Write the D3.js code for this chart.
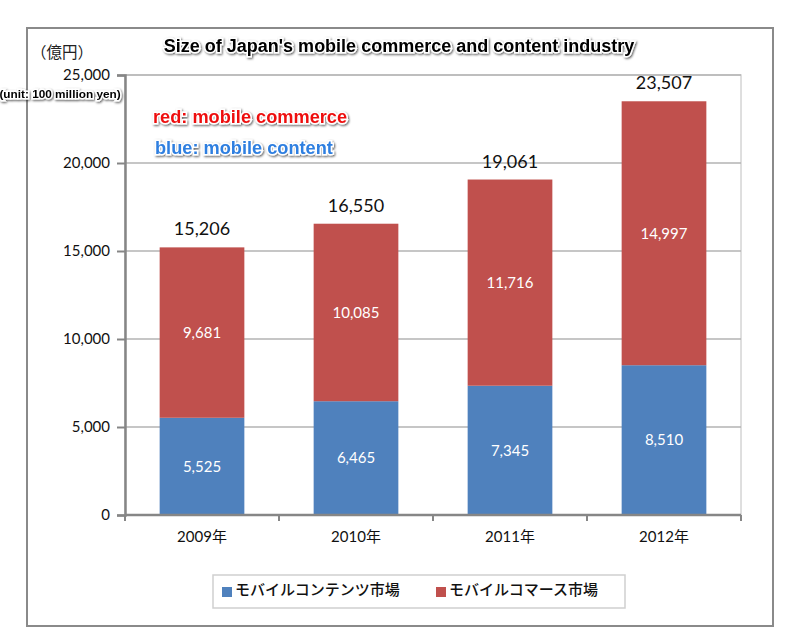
<!DOCTYPE html>
<html>
<head>
<meta charset="utf-8">
<script src="https://cdn.jsdelivr.net/npm/d3@7"></script>
<style>
  body { margin: 0; background: #fff; }
  svg { display: block; }
</style>
</head>
<body>
<svg id="chart" width="796" height="644"></svg>
<script>
const YEARS = ["2009年", "2010年", "2011年", "2012年"];
const CONTENT = [5525, 6465, 7345, 8510];
const COMMERCE = [9681, 10085, 11716, 14997];
const TOTALS = [15206, 16550, 19061, 23507];
const Y_TICKS = [0, 5000, 10000, 15000, 20000, 25000];
const SERIES = [
  { key: "content", name: "モバイルコンテンツ市場", color: "#4F81BD", values: CONTENT },
  { key: "commerce", name: "モバイルコマース市場", color: "#C0504D", values: COMMERCE },
];

const svg = d3.select("#chart");
const margin = { top: 75, left: 125 };
const width = 616;
const height = 440;
const fmt = d3.format(",");
const numFont = "Lato, 'DejaVu Sans', sans-serif";

// outer frame
svg
  .append("rect")
  .attr("x", 27)
  .attr("y", 28)
  .attr("width", 746)
  .attr("height", 598)
  .attr("fill", "none")
  .attr("stroke", "#8a8a8a")
  .attr("stroke-width", 2);

// text shadow used on the annotations
const defs = svg.append("defs");
const shadow = defs.append("filter").attr("id", "shadow").attr("x", "-10%").attr("y", "-30%").attr("width", "120%").attr("height", "160%");
shadow.append("feDropShadow").attr("dx", 1).attr("dy", 1.2).attr("stdDeviation", 1.1).attr("flood-color", "#000").attr("flood-opacity", 0.65);

const g = svg.append("g").attr("transform", `translate(${margin.left}, ${margin.top})`);

const xScale = d3.scaleBand().domain(YEARS).range([0, width]).paddingInner(0.45).paddingOuter(0.225);
const yScale = d3.scaleLinear().domain([0, 25000]).range([height, 0]);

// plot area border
g.append("rect")
  .attr("width", width)
  .attr("height", height)
  .attr("fill", "none")
  .attr("stroke", "#d4d4d4")
  .attr("stroke-width", 1.5);

// gridlines
g.append("g")
  .selectAll("line")
  .data(Y_TICKS.slice(1))
  .join("line")
  .attr("x1", 0)
  .attr("x2", width)
  .attr("y1", (d) => yScale(d))
  .attr("y2", (d) => yScale(d))
  .attr("stroke", "#b3b3b3")
  .attr("stroke-width", 1.5);

// stacked bars
const stacked = d3.stack().keys(SERIES.map((s) => s.key))(
  YEARS.map((y, i) => ({ year: y, content: CONTENT[i], commerce: COMMERCE[i] }))
);

stacked.forEach((layer, li) => {
  const s = SERIES[li];
  const lg = g.append("g").attr("class", `bars-${s.key}`);
  lg.selectAll("rect")
    .data(layer)
    .join("rect")
    .attr("x", (d) => xScale(d.data.year))
    .attr("width", xScale.bandwidth())
    .attr("y", (d) => yScale(d[1]))
    .attr("height", (d) => yScale(d[0]) - yScale(d[1]))
    .attr("fill", s.color);
  lg.selectAll("text")
    .data(layer)
    .join("text")
    .attr("x", (d) => xScale(d.data.year) + xScale.bandwidth() / 2)
    .attr("y", (d) => (yScale(d[0]) + yScale(d[1])) / 2)
    .attr("dy", "0.35em")
    .attr("text-anchor", "middle")
    .attr("fill", "#fff")
    .style("font-family", numFont)
    .style("font-size", "15px")
    .text((d) => fmt(d[1] - d[0]));
});

// totals above bars
g.append("g")
  .selectAll("text")
  .data(YEARS)
  .join("text")
  .attr("x", (d) => xScale(d) + xScale.bandwidth() / 2)
  .attr("y", (d, i) => yScale(TOTALS[i]) - 12)
  .attr("text-anchor", "middle")
  .attr("fill", "#111")
  .style("font-family", numFont)
  .style("font-size", "18px")
  .text((d, i) => fmt(TOTALS[i]));

// y axis
const yAxis = g
  .append("g")
  .attr("class", "axis axis-y")
  .call(d3.axisLeft(yScale).tickValues(Y_TICKS).tickFormat(fmt).tickSize(8).tickPadding(7));
yAxis.select(".domain").attr("stroke", "#868686").attr("stroke-width", 2.5);
yAxis.selectAll(".tick line").attr("stroke", "#868686").attr("stroke-width", 2);
yAxis.selectAll(".tick text").style("font-family", numFont).style("font-size", "15px").attr("fill", "#111");

// x axis with ticks at category boundaries
const xAxis = g.append("g").attr("class", "axis axis-x").attr("transform", `translate(0, ${height})`);
xAxis
  .append("line")
  .attr("x1", 0)
  .attr("x2", width)
  .attr("stroke", "#868686")
  .attr("stroke-width", 2.5);
xAxis
  .selectAll(".boundary")
  .data(d3.range(YEARS.length + 1))
  .join("line")
  .attr("class", "boundary")
  .attr("x1", (i) => i * xScale.step())
  .attr("x2", (i) => i * xScale.step())
  .attr("y1", 0)
  .attr("y2", 6)
  .attr("stroke", "#868686")
  .attr("stroke-width", 2);
xAxis
  .selectAll(".label")
  .data(YEARS)
  .join("text")
  .attr("class", "label")
  .attr("x", (d) => xScale(d) + xScale.bandwidth() / 2)
  .attr("y", 27)
  .attr("text-anchor", "middle")
  .attr("fill", "#111")
  .style("font-family", "Lato, 'Noto Sans CJK JP', sans-serif")
  .style("font-size", "15px")
  .text((d) => d);

// unit label
svg
  .append("text")
  .attr("x", 31)
  .attr("y", 58)
  .style("font-family", "'Noto Sans CJK JP', sans-serif")
  .style("font-size", "15.5px")
  .attr("fill", "#222")
  .text("（億円）");

// overlaid annotations
function annotate(text, x, y, size, color, anchor = "start") {
  svg
    .append("text")
    .attr("x", x)
    .attr("y", y)
    .attr("text-anchor", anchor)
    .attr("fill", color)
    .attr("stroke", "#fff")
    .attr("stroke-width", 3)
    .attr("paint-order", "stroke")
    .attr("filter", "url(#shadow)")
    .style("font-family", "'Liberation Sans', Arial, sans-serif")
    .style("font-weight", "bold")
    .style("font-size", `${size}px`)
    .text(text);
}

annotate("Size of Japan's mobile commerce and content industry", 399, 52, 18, "#000", "middle");
annotate("(unit: 100 million yen)", 60, 98, 11.8, "#000", "middle");
annotate("red: mobile commerce", 153, 123, 18.2, "#ee1111");
annotate("blue: mobile content", 155, 154, 18.2, "#2f7fe0");

// legend
const legend = svg.append("g").attr("transform", "translate(213, 575)");
legend
  .append("rect")
  .attr("width", 412)
  .attr("height", 33)
  .attr("fill", "#fff")
  .attr("stroke", "#cfcfcf")
  .attr("stroke-width", 1.5);
const items = legend
  .selectAll(".item")
  .data(SERIES)
  .join("g")
  .attr("class", "item")
  .attr("transform", (d, i) => `translate(${[9, 223][i]}, 0)`);
items
  .append("rect")
  .attr("y", 12)
  .attr("width", 10)
  .attr("height", 10)
  .attr("fill", (d) => d.color);
items
  .append("text")
  .attr("x", 13)
  .attr("y", 15)
  .attr("dy", "0.35em")
  .attr("fill", "#111")
  .style("font-family", "'Noto Sans CJK JP', sans-serif")
  .style("font-size", "15px")
  .style("font-weight", "500")
  .text((d) => d.name);
</script>
</body>
</html>
